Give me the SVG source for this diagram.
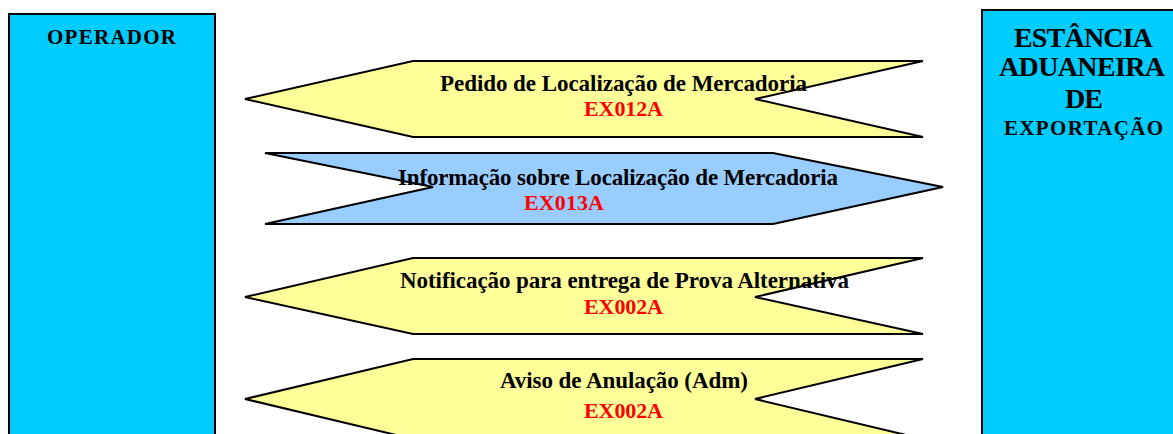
<svg xmlns="http://www.w3.org/2000/svg" width="1173" height="434" viewBox="0 0 1173 434">
<style>
.box{fill:#00CCFF;stroke:#000;stroke-width:2}
.yel{fill:#FFFF99;stroke:#000;stroke-width:2;stroke-linejoin:miter}
.blu{fill:#99CCFF;stroke:#000;stroke-width:2;stroke-linejoin:miter}
.t{font-family:"Liberation Serif","Times New Roman",serif;font-weight:bold;fill:#000}
.m{font-size:23px}
.c{font-size:22px;fill:#FF0000}
</style>
<rect width="1173" height="434" fill="#fff"/>
<g id="operador">
<rect class="box" x="9" y="14" width="206" height="440"/>
<text class="t" x="47" y="44" font-size="21" textLength="129" lengthAdjust="spacing">OPERADOR</text>
</g>
<g id="estancia">
<rect class="box" x="982" y="10" width="210" height="440"/>
<text class="t" x="1014" y="47" font-size="28" textLength="139" lengthAdjust="spacing">ESTÂNCIA</text>
<text class="t" x="999" y="76" font-size="28" textLength="166" lengthAdjust="spacing">ADUANEIRA</text>
<text class="t" x="1065" y="108" font-size="28" textLength="38" lengthAdjust="spacing">DE</text>
<text class="t" x="1004" y="135" font-size="21" textLength="159" lengthAdjust="spacing">EXPORTAÇÃO</text>
</g>
<g id="connectors">
<g id="msg1">
<polygon class="yel" points="245,99 413,61 923,61 755,99 923,137 413,137"/>
<text class="t m" x="440" y="91" textLength="367" lengthAdjust="spacing">Pedido de Localização de Mercadoria</text>
<text class="t c" x="584" y="116" textLength="79" lengthAdjust="spacing">EX012A</text>
</g>
<g id="msg2">
<polygon class="blu" points="265,153 773,153 943,187 773,224 265,224 433,187"/>
<text class="t m" x="398" y="185" textLength="440" lengthAdjust="spacing">Informação sobre Localização de Mercadoria</text>
<text class="t c" x="524" y="210" textLength="80" lengthAdjust="spacing">EX013A</text>
</g>
<g id="msg3">
<polygon class="yel" points="245,297 413,258 923,258 755,297 923,334 413,334"/>
<text class="t m" x="400" y="288" textLength="449" lengthAdjust="spacing">Notificação para entrega de Prova Alternativa</text>
<text class="t c" x="584" y="314" textLength="79" lengthAdjust="spacing">EX002A</text>
</g>
<g id="msg4">
<polygon class="yel" points="245,399 413,359 923,359 755,399 923,439 413,439"/>
<text class="t m" x="500" y="388" textLength="248" lengthAdjust="spacing">Aviso de Anulação (Adm)</text>
<text class="t c" x="584" y="418" textLength="79" lengthAdjust="spacing">EX002A</text>
</g>
</g>
</svg>
